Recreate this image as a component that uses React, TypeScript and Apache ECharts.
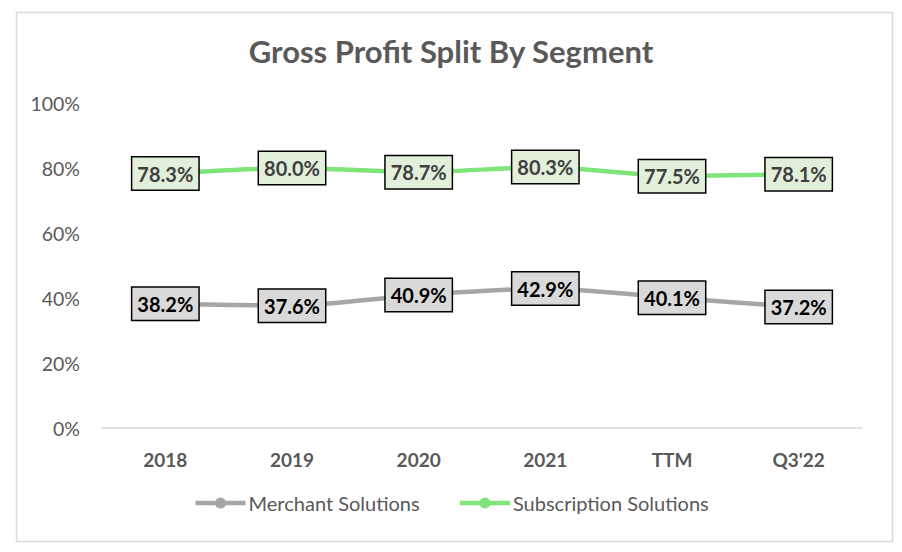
import React, { useEffect, useRef } from "react";
import * as echarts from "echarts";

const categories = ["2018", "2019", "2020", "2021", "TTM", "Q3'22"];
const merchant = [38.2, 37.6, 40.9, 42.9, 40.1, 37.2];
const subscription = [78.3, 80.0, 78.7, 80.3, 77.5, 78.1];
const yTicks = [0, 20, 40, 60, 80, 100];

const FONT = "Lato, 'Open Sans', sans-serif";

export default function App() {
  const ref = useRef<HTMLDivElement>(null);
  useEffect(() => {
    if (!ref.current) return;
    const chart = echarts.init(ref.current, undefined, { renderer: "svg" });
    const labelBase = {
      show: true,
      position: "inside",
      fontFamily: FONT,
      fontWeight: "bold",
      fontSize: 20,
      borderWidth: 1.5,
      borderColor: "#000",
      padding: [7, 5, 5, 5],
      formatter: (p: any) => p.value.toFixed(1) + "%",
    };
    chart.setOption({
      animation: false,
      backgroundColor: "#fff",
      textStyle: { fontFamily: FONT },
      title: {
        text: "Gross Profit Split By Segment",
        left: "center",
        top: 30,
        textStyle: { fontFamily: FONT, fontWeight: "bold", fontSize: 31, color: "#595959" },
      },
      graphic: [
        {
          type: "rect",
          shape: { x: 16.5, y: 12.5, width: 876, height: 529 },
          style: { fill: "none", stroke: "#d9d9d9", lineWidth: 1.5 },
          silent: true,
        },
      ],
      legend: {
        bottom: 34,
        left: "center",
        itemWidth: 50,
        itemHeight: 14,
        itemGap: 38,
        lineStyle: { width: 4.5 },
        textStyle: { fontFamily: FONT, fontSize: 20, color: "#595959", padding: [0, 0, 0, -2] },
        data: ["Merchant Solutions", "Subscription Solutions"],
      },
      grid: { left: 102, right: 40, top: 103, bottom: 124, containLabel: false },
      xAxis: {
        type: "category",
        data: categories,
        axisLine: { lineStyle: { color: "#d9d9d9", width: 1.5 } },
        axisTick: { show: false },
        axisLabel: { fontFamily: FONT, fontWeight: "bold", fontSize: 19, color: "#595959", margin: 22 },
      },
      yAxis: {
        type: "value",
        min: yTicks[0],
        max: yTicks[yTicks.length - 1],
        interval: 20,
        splitLine: { show: false },
        axisLine: { show: false },
        axisTick: { show: false },
        axisLabel: { fontFamily: FONT, fontSize: 19.5, color: "#595959", margin: 22, formatter: "{value}%" },
      },
      series: [
        {
          name: "Merchant Solutions",
          type: "line",
          data: merchant,
          symbol: "circle",
          symbolSize: 10,
          smooth: 0.2,
          itemStyle: { color: "#a6a6a6" },
          lineStyle: { color: "#a6a6a6", width: 4.5 },
          label: { ...labelBase, color: "#000", backgroundColor: "#d9d9d9" },
        },
        {
          name: "Subscription Solutions",
          type: "line",
          data: subscription,
          symbol: "circle",
          symbolSize: 10,
          smooth: 0.2,
          itemStyle: { color: "#7fe47a" },
          lineStyle: { color: "#7fe47a", width: 4.5 },
          label: { ...labelBase, color: "#404040", backgroundColor: "#e2efda" },
        },
      ],
    });
    return () => chart.dispose();
  }, []);
  return (
    <div
      ref={ref}
      style={{ position: "fixed", left: 0, top: 0, width: 902, height: 552 }}
    />
  );
}
